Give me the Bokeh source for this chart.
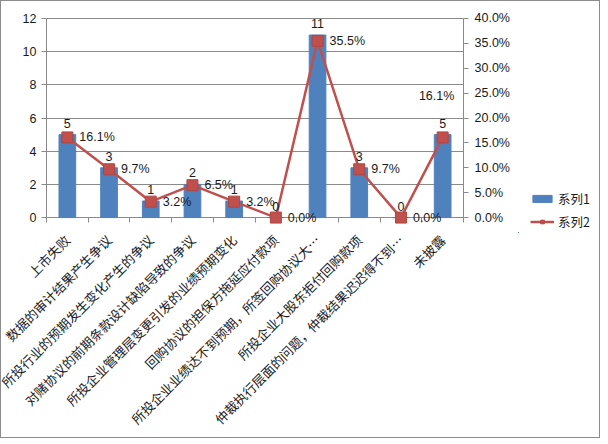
from bokeh.plotting import figure
from bokeh.models import (ColumnDataSource, Range1d, LinearAxis, SingleIntervalTicker, FixedTicker,
                          NumeralTickFormatter, LabelSet, Legend, LegendItem)
from bokeh.layouts import row
from bokeh.core.properties import value
from bokeh.embed import file_html
from bokeh.resources import INLINE
import math

categories = ["上市失败", "数据的审计结果产生争议", "所投行业的预期发生变化产生的争议",
              "对赌协议的前期条款设计缺陷导致的争议", "所投企业管理层变更引发的业绩预期变化",
              "回购协议的担保方拖延应付款项", "所投企业业绩达不到预期，所签回购协议大…",
              "所投企业大股东拒付回购款项", "仲裁执行层面的问题，仲裁结果迟迟得不到…", "未披露"]
counts = [5, 3, 1, 2, 1, 0, 11, 3, 0, 5]
shares = [0.161, 0.097, 0.032, 0.065, 0.032, 0.0, 0.355, 0.097, 0.0, 0.161]
series_names = ["系列1", "系列2"]

BLUE = "#4F81BD"
RED = "#C0504D"
GRID = "#8A8A8A"
TXT = "#1a1a1a"
NUM_FONT = "Liberation Sans"
CJK_FONT = "Noto Sans CJK SC"

Y_MAX = 12
P_MAX = 0.4
PAD_LO = 0.9
PAD_HI = 0.6
ratio = P_MAX / Y_MAX
n = len(categories)
xs = [i + 0.5 for i in range(n)]

src = ColumnDataSource(dict(
    x=xs, cnt=counts, pct=shares,
    cnt_txt=[str(c) for c in counts],
))
main_src = ColumnDataSource(dict(x=xs[:-1], pct=shares[:-1],
                                 pct_txt=["%.1f%%" % (s * 100) for s in shares[:-1]]))
last_src = ColumnDataSource(dict(x=xs[-1:], pct=shares[-1:],
                                 pct_txt=["%.1f%%" % (s * 100) for s in shares[-1:]]))

p = figure(width=517, height=436, x_range=Range1d(0, n), y_range=Range1d(-PAD_LO, Y_MAX + PAD_HI),
           output_backend="svg", toolbar_location=None, x_axis_type=None,
           min_border_left=45, min_border_top=7, min_border_right=55, min_border_bottom=202)
p.extra_y_ranges = {"pct": Range1d(-PAD_LO * ratio, P_MAX + PAD_HI * ratio)}
p.outline_line_color = None

bars = p.vbar(x="x", top="cnt", width=0.4, source=src, fill_color=BLUE, line_color=BLUE)
line = p.line(x="x", y="pct", source=src, y_range_name="pct", line_color=RED, line_width=2.5)
pts = p.scatter(x="x", y="pct", source=src, y_range_name="pct", marker="square", size=11,
                fill_color=RED, line_color="#B04540")

# left axis
p.yaxis.ticker = SingleIntervalTicker(interval=2)
p.yaxis.bounds = (0, Y_MAX)
p.yaxis.major_label_text_font = NUM_FONT
p.yaxis.major_label_text_font_size = "12.5px"
p.yaxis.major_label_text_color = TXT
p.yaxis.axis_line_color = GRID
p.yaxis.major_tick_line_color = GRID
p.yaxis.major_tick_out = 5
p.yaxis.major_tick_in = 0
p.yaxis.minor_tick_line_color = None
p.yaxis.major_label_standoff = 5

# right axis
ax2 = LinearAxis(y_range_name="pct", ticker=SingleIntervalTicker(interval=0.05),
                 formatter=NumeralTickFormatter(format="0.0%"), bounds=(0, P_MAX))
ax2.major_label_text_font = NUM_FONT
ax2.major_label_text_font_size = "12.5px"
ax2.major_label_text_color = TXT
ax2.axis_line_color = GRID
ax2.major_tick_line_color = GRID
ax2.major_tick_out = 5
ax2.major_tick_in = 0
ax2.minor_tick_line_color = None
ax2.major_label_standoff = 6
p.add_layout(ax2, "right")

# category axis (labels at centres, minor ticks at category boundaries)
cat_ax = LinearAxis(ticker=FixedTicker(ticks=xs, minor_ticks=list(range(n + 1))),
                    major_label_overrides={x: c for x, c in zip(xs, categories)},
                    major_label_orientation=math.pi / 4, major_label_text_font=CJK_FONT,
                    major_label_text_font_size="13px", major_label_text_color=TXT,
                    axis_line_color=None, major_tick_line_color=None,
                    major_tick_in=0, major_tick_out=0,
                    minor_tick_line_color=GRID, minor_tick_in=15, minor_tick_out=-10,
                    major_label_standoff=5)
p.add_layout(cat_ax, "below")

p.ygrid.grid_line_color = GRID
p.ygrid.grid_line_width = 1

# data labels
cnt_labels = LabelSet(x="x", y="cnt", text="cnt_txt", source=src, text_align="center",
                      text_baseline="bottom", y_offset=7, text_font=value(NUM_FONT),
                      text_font_size="12.5px", text_color=TXT)
p.add_layout(cnt_labels)
pct_labels = LabelSet(x="x", y="pct", text="pct_txt", source=main_src, y_range_name="pct",
                      text_align="left", text_baseline="middle", x_offset=12,
                      text_font=value(NUM_FONT), text_font_size="12.5px", text_color=TXT)
p.add_layout(pct_labels)
last_label = LabelSet(x="x", y="pct", text="pct_txt", source=last_src, y_range_name="pct",
                      text_align="center", text_baseline="middle", x_offset=-6, y_offset=41,
                      text_font=value(NUM_FONT), text_font_size="12.5px", text_color=TXT)
p.add_layout(last_label)

# legend in a side figure (proxy renderers fall outside its view)
lf = figure(width=81, height=436, x_range=Range1d(100, 101), y_range=Range1d(100, 101),
            output_backend="svg", toolbar_location=None, min_border=0)
lf.axis.visible = False
lf.grid.visible = False
lf.outline_line_color = None
lb = lf.vbar(x="x", top="cnt", width=0.4, source=src, fill_color=BLUE, line_color=BLUE)
ll = lf.line(x="x", y="pct", source=src, line_color=RED, line_width=2.5)
lp = lf.scatter(x="x", y="pct", source=src, marker="square", size=10,
                fill_color=RED, line_color="#B04540")
legend = Legend(items=[LegendItem(label=series_names[0], renderers=[lb]),
                       LegendItem(label=series_names[1], renderers=[ll, lp])],
                location=(12, 1), border_line_color=None, background_fill_alpha=0,
                label_text_font=CJK_FONT, label_text_font_size="12.5px", label_text_color=TXT,
                glyph_width=24, glyph_height=9, label_height=18, spacing=4, padding=0,
                margin=0, label_standoff=4)
lf.add_layout(legend, "center")

layout = row(p, lf)
layout.styles = {"border": "1px solid #8c8c8c"}

open("out.html", "w").write(file_html(layout, INLINE))
